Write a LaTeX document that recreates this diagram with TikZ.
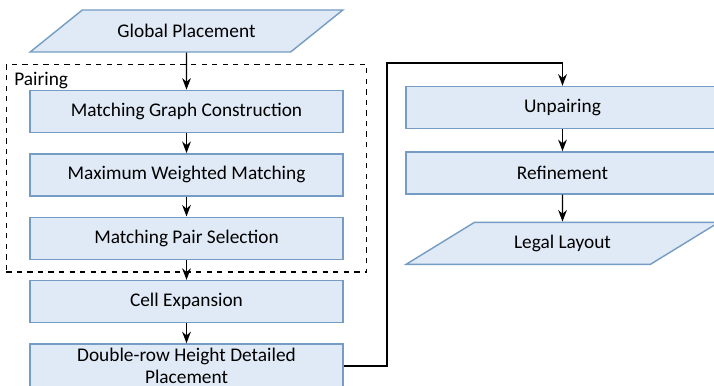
\documentclass[tikz,border=0pt]{standalone}
\usepackage{fontspec}
\setmainfont{Carlito}
\usepackage{tikz}
\usetikzlibrary{positioning,arrows.meta,shapes.geometric,calc,fit}

\definecolor{stepfill}{RGB}{224,234,246}
\definecolor{stepline}{RGB}{116,156,196}

\tikzset{
  stepbox/.style={draw=stepline,fill=stepfill,line width=0.8pt,
    minimum width=6.26cm,minimum height=0.84cm,align=center,
    font=\fontsize{11}{12.5}\selectfont},
  iobox/.style={stepbox,trapezium,trapezium left angle=34,
    trapezium right angle=146,trapezium stretches=true,
    minimum width=6.26cm}
}

\begin{document}
\begin{tikzpicture}[>=Stealth,node distance=0.4cm,line width=0.8pt]
  \useasboundingbox (0,0) rectangle (14.28,-7.72);
  \clip (0,0) rectangle (14.28,-7.72);
  % left column
  \node (gp) [iobox] at (3.73,-0.62) {Global Placement};
  \node (mgc) [stepbox,below=0.74cm of gp] {Matching Graph Construction};
  \node (mwm) [stepbox,below=of mgc] {Maximum Weighted Matching};
  \node (mps) [stepbox,below=of mwm] {Matching Pair Selection};
  \node (ce) [stepbox,below=of mps] {Cell Expansion};
  \node (dr) [stepbox,below=of ce,inner ysep=2.5pt]
     {Double-row Height Detailed\\Placement};
  % right column
  \node (unp) [stepbox] at (11.25,-2.15) {Unpairing};
  \node (ref) [stepbox,below=0.44cm of unp] {Refinement};
  \node (ll) [iobox,below=0.54cm of ref] {Legal Layout};
  % pairing group
  \coordinate (pnw) at ($(mgc.north west)+(-0.46,0.5)$);
  \coordinate (pse) at ($(mps.south east)+(0.46,-0.24)$);
  \node (pairing) [draw,dashed,inner sep=0pt,fit=(pnw)(pse)] {};
  \node (pairlbl) [anchor=north west,inner sep=0pt,
     font=\fontsize{11}{12.5}\selectfont]
     at ($(pairing.north west)+(0.16,-0.16)$) {Pairing};
  \coordinate (turn) at (7.74,-1.26);
  \draw[->] (gp) -- (mgc);
  \draw[->] (mgc) -- (mwm);
  \draw[->] (mwm) -- (mps);
  \draw[->] (mps) -- (ce);
  \draw[->] (ce) -- (dr);
  \draw[->] (dr.east) -| (turn) -| (unp.north);
  \draw[->] (unp) -- (ref);
  \draw[->] (ref) -- (ll);
\end{tikzpicture}
\end{document}
